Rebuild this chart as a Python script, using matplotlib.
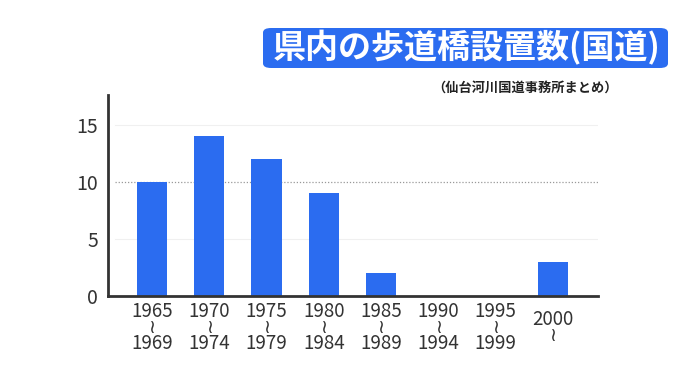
import numpy as np
import matplotlib.pyplot as plt
from matplotlib.patches import FancyBboxPatch
from matplotlib.transforms import blended_transform_factory

plt.rcParams['font.family'] = ['Noto Sans CJK JP', 'DejaVu Sans']

#---------------data---------------------
start_years = ['1965', '1970', '1975', '1980', '1985', '1990', '1995', '2000']
end_years = ['1969', '1974', '1979', '1984', '1989', '1994', '1999', '']
counts = [10, 14, 12, 9, 2, 0, 0, 3]
yticks = [0, 5, 10, 15]

title = '県内の歩道橋設置数(国道)'
source = '（仙台河川国道事務所まとめ）'

blue = '#2b6cf0'
dark = '#333333'

#---------------plot---------------------
fig = plt.figure(figsize=(6.8, 3.82), dpi=100)
ax = fig.add_axes([108/680, 86/382, 490/680, 201/382])

x = np.arange(len(counts))
ax.bar(x, counts, width=0.53, color=blue, zorder=3)

ax.set_xlim(-0.77, 7.79)
ax.set_ylim(0, 17.6)
ax.set_yticks(yticks)
ax.set_yticklabels([str(v) for v in yticks], fontsize=14, color=dark)
ax.tick_params(axis='y', length=0, pad=7)
ax.set_xticks([])

for v in yticks[1:]:
    if v == 10:
        ax.axhline(v, xmin=0.015, color='#999999', lw=0.9, ls=(0, (1, 1.5)), zorder=1)
    else:
        ax.axhline(v, xmin=0.015, color='#f0f0f0', lw=0.8, zorder=1)

for s in ['top', 'right']:
    ax.spines[s].set_visible(False)
for s in ['left', 'bottom']:
    ax.spines[s].set_color(dark)
    ax.spines[s].set_linewidth(2)
    ax.spines[s].set_zorder(4)

# 2段のx軸ラベル
trans = blended_transform_factory(ax.transData, ax.transAxes)
for i in range(len(start_years)):
    if end_years[i]:
        lab = start_years[i] + '\n≀\n' + end_years[i]
    else:
        lab = start_years[i] + '\n≀'
    ax.text(x[i], -0.158, lab, transform=trans, ha='center', va='center',
            fontsize=13.5, color=dark, linespacing=0.7)

# タイトル
box = FancyBboxPatch((263/680, 1 - 68/382), 405/680, 40/382,
                     boxstyle='round,pad=0,rounding_size=0.012',
                     transform=fig.transFigure, fc=blue, ec='none')
fig.patches.append(box)
fig.text(467/680, 1 - 48/382, title, ha='center', va='center',
         fontsize=23.8, fontweight='bold', color='white')
fig.text(525/680, 1 - 88/382, source, ha='center', va='center',
         fontsize=9.5, fontweight='bold', color='#222222')

fig.savefig('out.png', dpi=100)
